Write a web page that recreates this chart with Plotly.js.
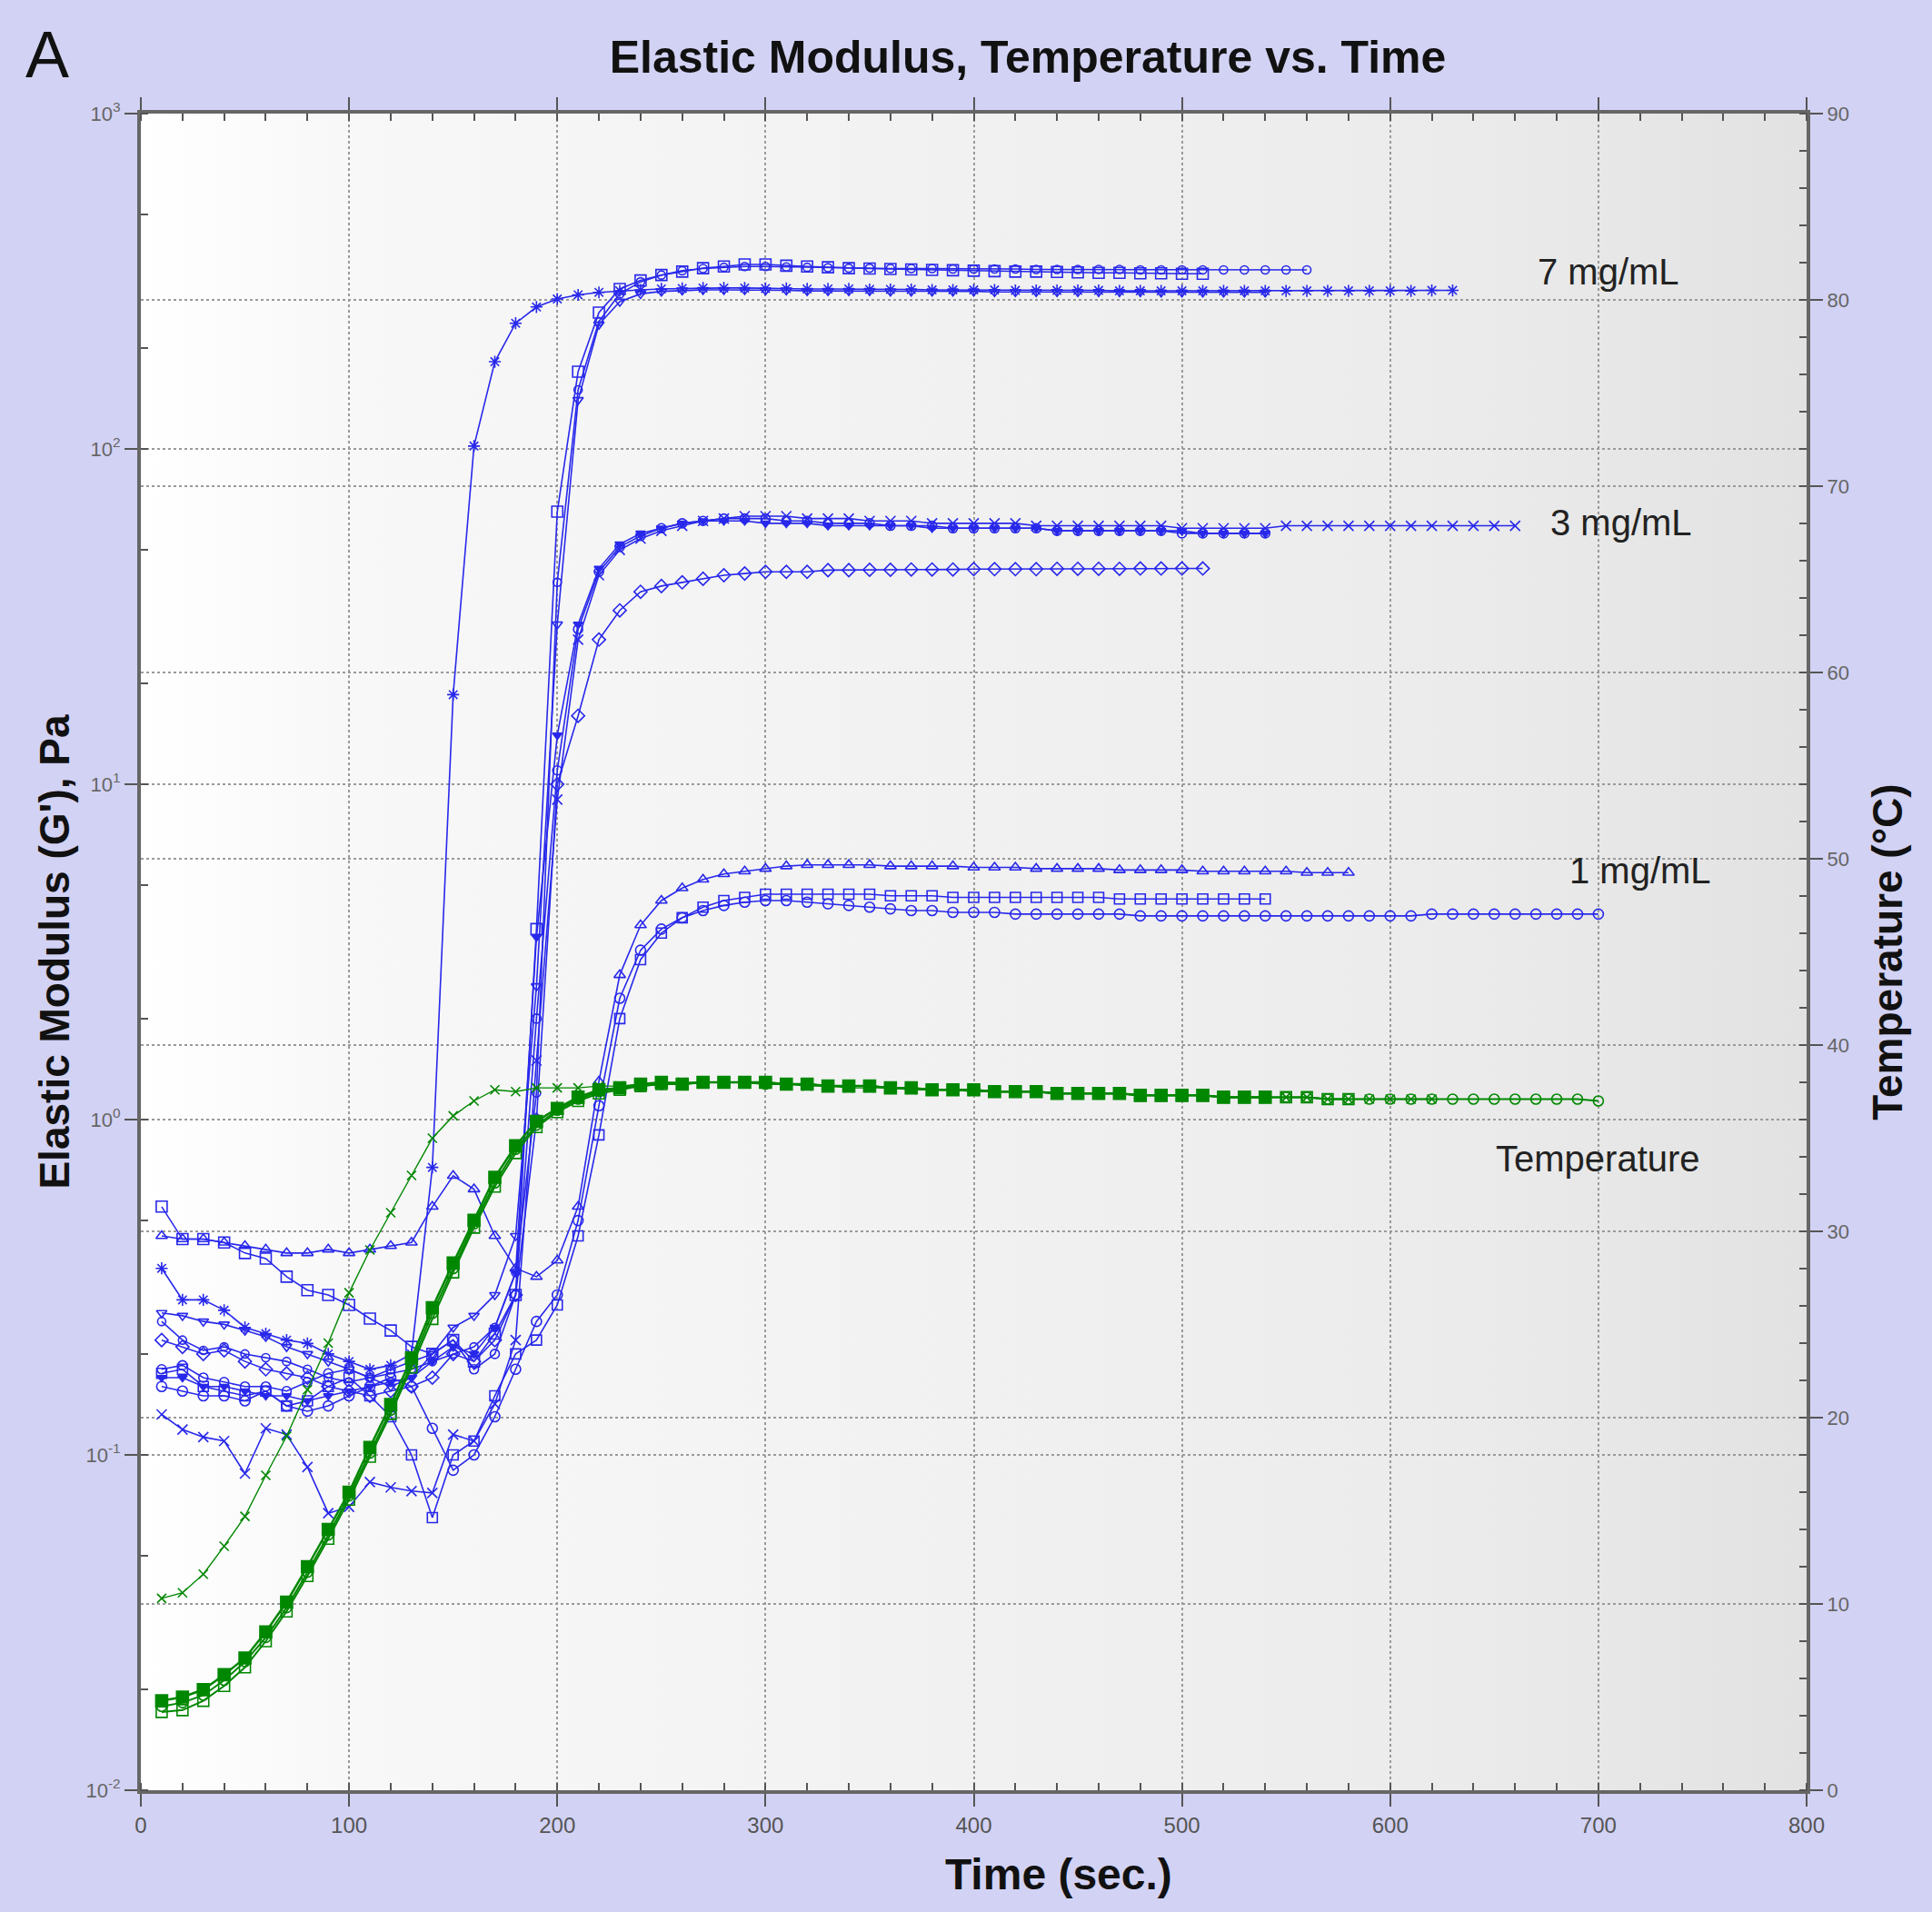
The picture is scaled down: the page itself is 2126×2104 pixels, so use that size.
<!DOCTYPE html>
<html>
<head>
<meta charset="utf-8">
<script src="https://cdn.plot.ly/plotly-3.0.1.min.js"></script>
<style>html,body{margin:0;padding:0;background:#d2d2f4;}</style>
</head>
<body>
<div id="chart" style="width:2126px;height:2104px;"></div>
<script>
// ---- Data ----
const time = [10,20,30,40,50,60,70,80,90,100,110,120,130,140,150,160,170,180,190,200,
  210,220,230,240,250,260,270,280,290,300,310,320,330,340,350,360,370,380,390,400,
  410,420,430,440,450,460,470,480,490,500,510,520,530,540,550,560,570,580,590,600,
  610,620,630,640,650,660,670,680,690,700];

// Elastic modulus G' (Pa), 7 mg/mL
const g7_asterisk = [0.36,0.29,0.29,0.27,0.24,0.23,0.22,0.215,0.20,0.19,0.18,0.185,0.20,
  0.72,18.5,102,182,237,265,280,288,293,296,298,300,
  301,302,302,302,301,301,300,300,300,299,299,299,298,298,298,298,297,297,297,297,
  297,296,296,296,296,296,296,296,296,296,296,296,296,296,296,296,297,297];
const g7_square = [0.55,0.44,0.44,0.43,0.40,0.385,0.34,0.31,0.30,0.28,0.255,0.235,0.21,0.20,0.22,0.19,0.23,0.30,
  3.7,65,170,255,300,318,330,338,346,350,355,355,352,350,348,
  346,345,344,343,342,341,340,339,338,338,337,336,335,335,334,334,333,333];
const g7_circle = [0.25,0.22,0.205,0.21,0.20,0.195,0.19,0.18,0.17,0.165,0.17,0.175,0.18,0.19,0.20,0.21,0.24,0.35,
  1.2,40,150,240,290,315,330,340,345,348,350,350,349,348,347,
  346,346,345,345,345,344,344,344,344,343,343,343,343,343,342,342,342,342,342,342,342,342,342];
const g7_tridown = [0.265,0.26,0.25,0.245,0.235,0.225,0.21,0.20,0.19,0.18,0.17,0.16,0.17,0.20,0.24,0.26,0.30,0.45,
  2.5,30,140,235,275,290,295,297,298,298,298,297,297,296,296,
  296,296,295,295,295,295,295,294,294,294,294,294,294,294,294,293,293,293,293,293,293];

// 3 mg/mL
const g3_x = [0.132,0.119,0.113,0.11,0.088,0.12,0.115,0.092,0.067,0.07,0.083,0.08,0.078,0.077,0.115,0.11,0.142,0.22,
  1.5,9.0,27,42,50,54,57,59,61,62,63,63,63,62,62,
  62,61,61,61,60,60,60,60,60,59,59,59,59,59,59,59,58,58,58,58,58,59,59,59,59,59,59,59,59,59,59,59,59];
const g3_circle = [0.18,0.185,0.17,0.165,0.16,0.16,0.155,0.165,0.175,0.18,0.17,0.18,0.19,0.20,0.22,0.18,0.20,0.30,
  2.0,11,29,43,51,55,58,60,61,62,62,62,61,61,60,
  60,60,59,59,59,58,58,58,58,58,57,57,57,57,57,57,56,56,56,56,56];
const g3_tridown = [0.17,0.17,0.16,0.16,0.155,0.15,0.15,0.145,0.15,0.155,0.16,0.165,0.17,0.19,0.21,0.20,0.24,0.35,
  3.5,14,30,44,52,56,58,60,61,61,61,60,60,60,59,
  59,59,59,59,58,58,58,58,58,58,57,57,57,57,57,57,57,56,56,56,56];
const g3_diamond = [0.22,0.21,0.20,0.205,0.19,0.18,0.175,0.17,0.16,0.155,0.15,0.155,0.16,0.17,0.20,0.19,0.22,0.30,
  1.0,10,16,27,33,37.5,39,40,41,42,42.5,43,43,43,43.5,
  43.5,43.6,43.6,43.7,43.7,43.7,43.8,43.8,43.8,43.8,43.9,43.9,43.9,43.9,44.0,44.0,44.0,44.0];

// 1 mg/mL
const g1_triangle = [0.45,0.44,0.44,0.43,0.42,0.41,0.40,0.40,0.41,0.40,0.41,0.42,0.43,0.55,0.68,0.62,0.45,0.36,
  0.34,0.38,0.55,1.3,2.7,3.8,4.5,4.9,5.2,5.4,5.5,5.6,5.7,5.75,5.75,
  5.75,5.75,5.7,5.7,5.7,5.7,5.65,5.65,5.65,5.6,5.6,5.6,5.6,5.55,5.55,5.55,5.55,5.5,5.5,5.5,5.5,5.5,5.45,5.45,5.45];
const g1_square = [0.175,0.18,0.16,0.155,0.15,0.155,0.14,0.145,0.16,0.17,0.15,0.13,0.10,0.065,0.10,0.11,0.15,0.20,
  0.22,0.28,0.45,0.9,2.0,3.0,3.6,4.0,4.3,4.5,4.6,4.7,4.7,4.7,4.7,
  4.7,4.7,4.65,4.65,4.65,4.6,4.6,4.6,4.6,4.6,4.6,4.6,4.6,4.55,4.55,4.55,4.55,4.55,4.55,4.55,4.55];
const g1_circle = [0.16,0.155,0.15,0.15,0.145,0.155,0.14,0.135,0.14,0.15,0.16,0.17,0.16,0.12,0.09,0.10,0.13,0.18,
  0.25,0.3,0.5,1.1,2.3,3.2,3.7,4.0,4.2,4.35,4.45,4.5,4.5,4.45,4.4,
  4.35,4.3,4.25,4.2,4.2,4.15,4.15,4.15,4.1,4.1,4.1,4.1,4.1,4.1,4.05,4.05,4.05,4.05,4.05,4.05,
  4.05,4.05,4.05,4.05,4.05,4.05,4.05,4.05,4.1,4.1,4.1,4.1,4.1,4.1,4.1,4.1,4.1];

// Temperature (°C)
const temp_x = [10.3,10.6,11.6,13.1,14.7,16.9,19.0,21.5,24.0,26.7,29.0,31.0,33.0,35.0,36.2,37.0,37.6,37.5,37.7,37.7,
  37.7,37.8,37.8,37.9,38.0,
  38.0,38.0,38.0,38.0,37.9,37.9,37.8,37.8,37.7,37.7,37.7,37.6,37.6,37.6,37.5,37.5,37.5,37.5,37.4,37.4,
  37.4,37.4,37.3,37.3,37.3,37.3,37.2,37.2,37.2,37.2,37.2,37.1,37.1,37.1,37.1,37.1,37.1];
const temp_sq_filled = [4.8,5.0,5.4,6.2,7.1,8.5,10.1,12.0,14.0,16.0,18.4,20.7,23.2,25.9,28.3,30.6,32.9,34.6,35.9,36.6,
  37.2,37.6,37.7,37.9,38.0,
  37.9,38.0,38.0,38.0,38.0,37.9,37.9,37.8,37.8,37.8,37.7,37.7,37.6,37.6,37.6,37.5,37.5,37.5,37.4,37.4,
  37.4,37.4,37.3,37.3,37.3,37.3,37.2,37.2,37.2];
const temp_sq_open = [4.2,4.3,4.8,5.6,6.6,8.0,9.6,11.5,13.5,15.6,17.9,20.2,22.7,25.3,27.8,30.2,32.4,34.2,35.6,36.4,
  37.0,37.4,37.6,37.8,37.9,
  37.9,38.0,38.0,38.0,38.0,37.9,37.9,37.8,37.8,37.8,37.7,37.7,37.6,37.6,37.6,37.5,37.5,37.5,37.4,37.4,
  37.4,37.4,37.3,37.3,37.3,37.3,37.2,37.2,37.2,37.2,37.2,37.1,37.1];
const temp_circle = [4.5,4.7,5.1,5.9,6.9,8.2,9.8,11.7,13.7,15.8,18.1,20.4,22.9,25.6,28.0,30.4,32.6,34.4,35.7,36.5,
  37.1,37.5,37.7,37.8,37.9,
  37.9,38.0,38.0,38.0,37.9,37.9,37.9,37.8,37.8,37.8,37.7,37.7,37.6,37.6,37.6,37.5,37.5,37.5,37.4,37.4,
  37.4,37.4,37.3,37.3,37.3,37.3,37.2,37.2,37.2,37.2,37.2,37.1,37.1,37.1,37.1,37.1,37.1,37.1,37.1,37.1,
  37.1,37.1,37.1,37.1,37.0];

// Axis tick labels
const modTickVals = [0.01, 0.1, 1, 10, 100, 1000];
const modTickText = ['10<sup>-2</sup>','10<sup>-1</sup>','10<sup>0</sup>','10<sup>1</sup>','10<sup>2</sup>','10<sup>3</sup>'];

const labels = {g7:'7 mg/mL', g3:'3 mg/mL', g1:'1 mg/mL', temp:'Temperature'};

// ---- Traces ----
const BLUE = 'rgb(40,40,235)';
const GREEN = 'rgb(0,135,0)';
function blue(name, vals, sym, size){
  return {type:'scatter', mode:'lines+markers', name:name,
    x: time.slice(0, vals.length), y: vals, yaxis:'y',
    line:{color:BLUE, width:1.6},
    marker:{symbol:sym, size:size||11, color:BLUE, line:{color:BLUE, width:1.6}}};
}
function green(name, vals, sym, size, lw){
  return {type:'scatter', mode:'lines+markers', name:name,
    x: time.slice(0, vals.length), y: vals, yaxis:'y2',
    line:{color:GREEN, width:lw||1.6},
    marker:{symbol:sym, size:size||11, color:GREEN, line:{color:GREEN, width:1.6}}};
}
const traces = [
  blue('7 mg/mL #1', g7_asterisk, 'asterisk-open', 11),
  blue('7 mg/mL #2', g7_square, 'square-open', 12),
  blue('7 mg/mL #3', g7_circle, 'circle-open', 9),
  blue('7 mg/mL #4', g7_tridown, 'triangle-down-open', 10),
  blue('3 mg/mL #1', g3_x, 'x-thin-open', 11),
  blue('3 mg/mL #2', g3_circle, 'circle-open', 10),
  blue('3 mg/mL #3', g3_tridown, 'triangle-down', 9),
  blue('3 mg/mL #4', g3_diamond, 'diamond-open', 11),
  blue('1 mg/mL #1', g1_triangle, 'triangle-up-open', 11),
  blue('1 mg/mL #2', g1_square, 'square-open', 11),
  blue('1 mg/mL #3', g1_circle, 'circle-open', 11),
  green('Temp #1', temp_x, 'x-thin-open', 10, 1.4),
  green('Temp #2', temp_sq_open, 'square-open', 12, 2),
  green('Temp #3', temp_circle, 'circle-open', 11, 2),
  green('Temp #4', temp_sq_filled, 'square', 13, 2.5)
];

// plot background gradient
const svg = "<svg xmlns='http://www.w3.org/2000/svg' width='200' height='10' viewBox='0 0 200 10' preserveAspectRatio='none'>"+
 "<defs><linearGradient id='g' x1='0' y1='0' x2='1' y2='0'>"+
 "<stop offset='0' stop-color='#ffffff'/><stop offset='0.12' stop-color='#f8f8f8'/>"+
 "<stop offset='0.5' stop-color='#f1f1f1'/><stop offset='0.8' stop-color='#ebebeb'/>"+
 "<stop offset='1' stop-color='#e2e2e2'/></linearGradient></defs>"+
 "<rect width='200' height='10' fill='url(#g)'/></svg>";

const TICKC = '#555';
const NARROW = 'Liberation Sans Narrow, Arial Narrow, Liberation Sans, sans-serif';
const GRID = {showgrid:true, gridcolor:'#9a9a9a', griddash:'dot', gridwidth:2};
const layout = {
  width:2126, height:2104,
  paper_bgcolor:'#d2d2f4', plot_bgcolor:'#f3f3f3',
  margin:{l:155, r:138, t:125, b:134},
  showlegend:false,
  font:{family:'Liberation Sans, Arial, sans-serif', color:'#222'},
  title:{text:'<b>Elastic Modulus, Temperature vs. Time</b>',
    font:{family:NARROW, size:50, color:'#111'},
    x:0.532, xref:'container', xanchor:'center', y:0.9705, yref:'container', yanchor:'middle'},
  images:[{source:'data:image/svg+xml;charset=utf-8,'+encodeURIComponent(svg),
    xref:'paper', yref:'paper', x:0, y:1, sizex:1, sizey:1, xanchor:'left', yanchor:'top',
    sizing:'stretch', layer:'below'}],
  xaxis:Object.assign({range:[0,800], tick0:0, dtick:100, ticks:'outside', ticklen:14, tickwidth:2, tickcolor:TICKC,
    showline:true, linecolor:'#666', linewidth:4, mirror:'ticks', zeroline:false,
    tickfont:{size:24, color:TICKC, family:NARROW},
    minor:{dtick:20, ticks:'inside', ticklen:8, tickwidth:2, tickcolor:TICKC, showgrid:false},
    title:{text:'&nbsp;&nbsp;&nbsp;&nbsp;&nbsp;&nbsp;&nbsp;&nbsp;&nbsp;&nbsp;&nbsp;&nbsp;&nbsp;&nbsp;<b>Time (sec.)</b>', font:{size:48, color:'#111', family:NARROW}, standoff:26}}, GRID),
  yaxis:Object.assign({type:'log', range:[-2,3], tickmode:'array', tickvals:modTickVals, ticktext:modTickText,
    ticks:'outside', ticklen:14, tickwidth:2, tickcolor:TICKC,
    showline:true, linecolor:'#666', linewidth:4, zeroline:false,
    tickfont:{size:22, color:'#666'},
    minor:{ticks:'inside', ticklen:8, tickwidth:2, tickcolor:TICKC, showgrid:false},
    title:{text:"<b>Elastic Modulus (G'), Pa</b>", font:{size:46, color:'#111', family:NARROW}, standoff:4}}, GRID),
  yaxis2:Object.assign({overlaying:'y', side:'right', range:[0,90], tick0:0, dtick:10, ticks:'outside', ticklen:14, tickwidth:2, tickcolor:TICKC,
    showline:true, linecolor:'#666', linewidth:4, zeroline:false,
    tickfont:{size:22, color:'#666'},
    minor:{dtick:2, ticks:'inside', ticklen:8, tickwidth:2, tickcolor:TICKC, showgrid:false},
    title:{text:'<b>Temperature (°C)</b>', font:{size:46, color:'#111', family:NARROW}, standoff:28}}, GRID),
  annotations:[
    {text:labels.g7, x:705, y:Math.log10(337), xref:'x', yref:'y', showarrow:false, font:{size:40, color:'#222'}},
    {text:labels.g3, x:711, y:Math.log10(60.5), xref:'x', yref:'y', showarrow:false, font:{size:40, color:'#222'}},
    {text:labels.g1, x:720, y:Math.log10(5.52), xref:'x', yref:'y', showarrow:false, font:{size:40, color:'#222'}},
    {text:labels.temp, x:700, y:33.9, xref:'x', yref:'y2', showarrow:false, font:{size:40, color:'#222'}},
    {text:'A', x:-0.056, y:1.035, xref:'paper', yref:'paper', xanchor:'center', yanchor:'middle', showarrow:false, font:{size:72, color:'#111'}}
  ]
};
Plotly.newPlot('chart', traces, layout, {staticPlot:true, displayModeBar:false});
</script>
</body>
</html>
